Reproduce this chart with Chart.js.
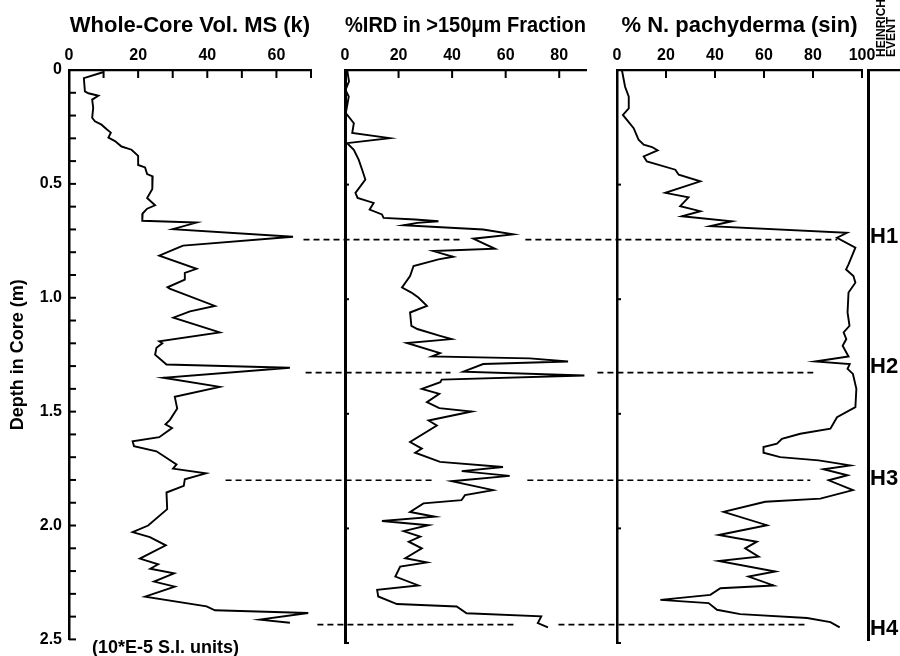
<!DOCTYPE html>
<html>
<head>
<meta charset="utf-8">
<script src="https://cdn.jsdelivr.net/npm/chart.js@4/dist/chart.umd.min.js"></script>
<style>
  body { margin: 0; background: #fff; width: 900px; height: 656px; overflow: hidden; position: relative; font-family: "Liberation Sans", Arial, sans-serif; }
  canvas { position: absolute; top: 0; }
  .note { position: absolute; font-weight: bold; color: #000; white-space: pre; }
</style>
</head>
<body>
<canvas id="ms" width="330" height="656" style="left:0px"></canvas>
<canvas id="ird" width="410" height="656" style="left:200px"></canvas>
<canvas id="nps" width="400" height="656" style="left:500px"></canvas>
<canvas id="heinrich" width="70" height="656" style="left:830px"></canvas>
<div class="note" style="left:92px; top:637px; font-size:18px; line-height:20px;">(10*E-5 S.I. units)</div>
<div class="note" style="left:876px; top:57px; font-size:12px; line-height:10px; transform-origin:0 0; transform:rotate(-90deg);">HEINRICH
EVENT</div>
<script>
// whole-core magnetic susceptibility
let msDepth = [0.01,0.036,0.094,0.102,0.113,0.13,0.166,0.21,0.225,0.24,0.26,0.275,0.297,0.312,0.336,0.35,0.377,0.417,0.428,0.457,0.467,0.522,0.562,0.594,0.609,0.63,0.662,0.67,0.699,0.732,0.771,0.78,0.815,0.873,0.891,0.92,0.954,0.96,1.036,1.06,1.087,1.152,1.191,1.2,1.22,1.25,1.293,1.307,1.351,1.391,1.435,1.486,1.536,1.556,1.572,1.612,1.63,1.652,1.674,1.732,1.75,1.771,1.797,1.826,1.855,1.928,2.0,2.029,2.051,2.087,2.145,2.17,2.19,2.21,2.246,2.268,2.312,2.355,2.372,2.384,2.413,2.427];
let msValue = [9.8,4.3,4.6,5.6,8.5,6.7,7.0,6.7,7.5,9.4,10.9,12.1,11.4,13.3,15.2,18.1,20.0,20.0,22.0,22.6,24.2,24.1,22.6,24.9,22.6,21.3,21.2,36.9,30.0,64.8,33.0,31.6,26.1,36.9,33.5,33.5,28.5,29.1,42.2,35.0,30.2,43.6,26.1,27.0,25.3,24.9,28.2,63.9,27.3,43.6,30.6,31.3,29.2,27.9,29.8,26.1,18.4,18.8,25.3,31.1,30.1,39.6,33.5,33.2,28.2,28.4,22.9,18.4,23.4,28.0,20.5,25.8,23.5,30.4,24.6,30.6,22.0,39.8,42.2,69.2,55.2,63.9];

// % IRD in >150um fraction
let irdDepth = [0.0,0.05,0.087,0.116,0.188,0.232,0.275,0.297,0.319,0.348,0.391,0.435,0.478,0.536,0.558,0.58,0.609,0.63,0.645,0.652,0.66,0.667,0.677,0.696,0.717,0.736,0.78,0.79,0.815,0.826,0.855,0.899,0.949,0.971,0.993,1.029,1.058,1.116,1.13,1.16,1.174,1.191,1.235,1.25,1.258,1.272,1.283,1.316,1.333,1.351,1.362,1.391,1.413,1.449,1.475,1.49,1.529,1.551,1.623,1.652,1.67,1.71,1.732,1.75,1.771,1.794,1.833,1.855,1.877,1.891,1.928,1.949,1.968,1.986,2.012,2.036,2.058,2.087,2.13,2.148,2.167,2.21,2.249,2.268,2.297,2.33,2.341,2.37,2.384,2.413,2.432];
let irdValue = [0.8,1.5,0.2,1.4,0.3,3.3,2.7,16.7,0.8,3.3,5.1,6.4,7.6,3.9,4.7,10.7,9.2,13.8,14.4,26.2,34.9,27.0,21.9,51.6,62.8,47.9,56.0,33.0,40.4,34.9,25.6,24.3,21.3,24.8,27.4,30.6,24.3,24.8,27.0,35.5,39.8,23.1,35.5,32.4,69.0,83.3,51.6,44.2,89.4,36.1,35.6,28.7,35.2,30.6,35.2,47.3,31.2,34.3,24.3,28.7,26.2,35.5,59.0,43.6,61.5,39.8,55.3,44.8,43.5,29.3,24.3,33.6,13.8,31.2,21.9,28.1,23.8,28.7,22.5,30.6,20.6,18.8,27.4,12.0,12.4,19.4,41.7,45.4,73.3,72.0,75.8];

// % N. pachyderma (sin)
let npsDepth = [0.0,0.073,0.116,0.167,0.196,0.254,0.304,0.326,0.336,0.351,0.377,0.399,0.435,0.457,0.486,0.536,0.556,0.594,0.616,0.638,0.66,0.681,0.71,0.732,0.775,0.848,0.87,0.899,0.928,0.971,1.058,1.116,1.145,1.174,1.203,1.25,1.272,1.283,1.304,1.326,1.391,1.471,1.515,1.565,1.587,1.609,1.63,1.645,1.67,1.689,1.703,1.725,1.742,1.768,1.79,1.833,1.87,1.884,1.928,1.986,2.029,2.058,2.087,2.123,2.142,2.188,2.21,2.249,2.261,2.29,2.312,2.326,2.355,2.374,2.391,2.409,2.432];
let npsValue = [2.0,3.3,4.8,4.8,2.4,6.8,8.8,10.9,14.3,16.6,10.9,12.2,23.8,25.2,34.0,19.7,29.2,25.8,34.0,26.5,46.9,38.1,93.9,89.8,97.3,94.5,93.5,96.5,97.3,94.5,94.1,94.9,92.5,93.6,92.1,94.5,80.9,95.0,94.1,96.3,97.7,97.3,89.8,87.1,74.8,67.3,65.3,59.8,59.8,66.6,82.3,95.2,84.3,94.1,86.4,96.3,83.0,60.5,43.5,61.2,41.5,57.1,52.3,57.8,41.5,64.6,53.7,63.9,42.2,38.1,17.7,37.4,40.8,50.3,77.6,87.1,90.9];

// Heinrich events
let eventNames = ["H1", "H2", "H3", "H4"];
let eventDepths = [0.74, 1.32, 1.79, 2.42];
let labelDepths = [0.73, 1.30, 1.79, 2.45];
// dashed tie lines, ends in IRD units (left part) and N. pachyderma units (right part)
let irdDashFrom = [-15.5, -14.7, -44.6, -10.3];
let irdDashTo = [44.2, 39.4, 33.0, 63.6];
let npsDashFrom = [-37.4, -8.0, -36.6, -23.9];
let npsDashTo = [89.9, 80.1, 78.9, 78.1];

const FONT = "'Liberation Sans', Arial, sans-serif";
Chart.defaults.font.family = FONT;
Chart.defaults.color = "#000";

// tick marks that point into the plot, like the original
const innerTicks = {
    id: "innerTicks",
    afterDraw(chart, args, opts) {
        let ctx = chart.ctx, area = chart.chartArea;
        ctx.save();
        ctx.strokeStyle = "#000";
        ctx.lineWidth = 2;
        if (opts.x) {
            chart.scales.x.ticks.forEach(t => {
                let px = chart.scales.x.getPixelForValue(t.value);
                ctx.beginPath(); ctx.moveTo(px, area.top); ctx.lineTo(px, area.top + opts.x); ctx.stroke();
            });
        }
        if (opts.y) {
            chart.scales.y.ticks.forEach(t => {
                let py = chart.scales.y.getPixelForValue(t.value);
                ctx.beginPath(); ctx.moveTo(area.left, py); ctx.lineTo(area.left + opts.y, py); ctx.stroke();
            });
        }
        ctx.restore();
    }
};

function curve(depths, values) {
    return {
        data: depths.map((d, i) => ({ x: values[i], y: d })),
        showLine: true, borderColor: "#000", borderWidth: 1.9,
        pointRadius: 0, clip: false
    };
}

function tieLines(from, to) {
    return eventDepths.map((d, i) => ({
        data: [{ x: from[i], y: d }, { x: to[i], y: d }],
        showLine: true, borderColor: "#000", borderWidth: 1.7, borderDash: [6, 4],
        pointRadius: 0, clip: false
    }));
}

function depthAxis(yWidth, extra) {
    return Object.assign({
        type: "linear", reverse: true, min: 0, max: 2.5,
        grid: { display: false, drawTicks: false },
        border: { display: true, color: "#000", width: 2.5 },
        ticks: { display: false, stepSize: 0.5 },
        afterFit: s => { s.width = yWidth; }
    }, extra || {});
}

function topAxis(title, max, step, labelFn, extraTicks) {
    return {
        type: "linear", position: "top", min: 0, max: max,
        grid: { display: false, drawTicks: false },
        border: { display: true, color: "#000", width: 2.2 },
        ticks: Object.assign({
            stepSize: step, autoSkip: false, maxRotation: 0, padding: 5,
            font: { size: 16, weight: "bold" }, callback: labelFn
        }, extraTicks || {}),
        title: { display: true, text: title, font: { size: 22, weight: "bold" }, padding: { top: 13, bottom: 0 } },
        afterFit: s => { s.height = 70; }
    };
}

function baseOptions(padding, scales, ticks) {
    return {
        responsive: false, animation: false, devicePixelRatio: 1,
        layout: { padding: padding },
        plugins: { legend: { display: false }, tooltip: { enabled: false }, innerTicks: ticks },
        scales: scales
    };
}

new Chart(document.getElementById("ms"), {
    type: "scatter",
    data: { datasets: [curve(msDepth, msValue)] },
    options: baseOptions({ left: 0, right: 19, top: 0, bottom: 13 }, {
        x: topAxis("Whole-Core Vol. MS (k)", 70, 10, v => (v % 20 === 0 ? v : "")),
        y: depthAxis(69, {
            ticks: {
                display: true, stepSize: 0.1, autoSkip: false, padding: 7,
                font: { size: 16, weight: "bold" },
                callback: v => {
                    if (Math.abs(v * 2 - Math.round(v * 2)) > 1e-6) return "";
                    return v === 0 ? "0" : v.toFixed(1);
                }
            },
            title: { display: true, text: "Depth in Core (m)", font: { size: 18, weight: "bold" }, padding: { top: 7, bottom: 0 } }
        })
    }, { x: 8, y: 7 }),
    plugins: [innerTicks]
});

new Chart(document.getElementById("ird"), {
    type: "scatter",
    data: { datasets: [curve(irdDepth, irdValue)].concat(tieLines(irdDashFrom, irdDashTo)) },
    options: baseOptions({ left: 0, right: 24, top: 0, bottom: 13 }, {
        x: topAxis("%IRD in >150\u03BCm Fraction", 90, 20, v => v, { includeBounds: false }),
        y: depthAxis(145, { border: { display: true, color: "#000", width: 3 } })
    }, { x: 8, y: 4 }),
    plugins: [innerTicks]
});

new Chart(document.getElementById("nps"), {
    type: "scatter",
    data: { datasets: [curve(npsDepth, npsValue)].concat(tieLines(npsDashFrom, npsDashTo)) },
    options: baseOptions({ left: 0, right: 38, top: 0, bottom: 13 }, {
        x: topAxis("% N. pachyderma (sin)", 100, 20, v => v),
        y: depthAxis(117)
    }, { x: 8, y: 4 }),
    plugins: [innerTicks]
});

new Chart(document.getElementById("heinrich"), {
    type: "scatter",
    data: { datasets: [] },
    options: baseOptions({ left: 0, right: 0, top: 0, bottom: 13 }, {
        x: {
            type: "linear", position: "top", min: 0, max: 1,
            grid: { display: false, drawTicks: false },
            border: { display: true, color: "#000", width: 2.2 },
            ticks: { display: false },
            afterFit: s => { s.height = 70; }
        },
        y: depthAxis(38, {
            border: { display: true, color: "#000", width: 3 },
            afterBuildTicks: s => { s.ticks = labelDepths.map(v => ({ value: v })); },
            ticks: {
                display: true, mirror: true, padding: 2, autoSkip: false,
                font: { size: 22, weight: "bold" },
                callback: (v, i) => eventNames[i]
            }
        })
    }, {})
});
</script>
</body>
</html>
